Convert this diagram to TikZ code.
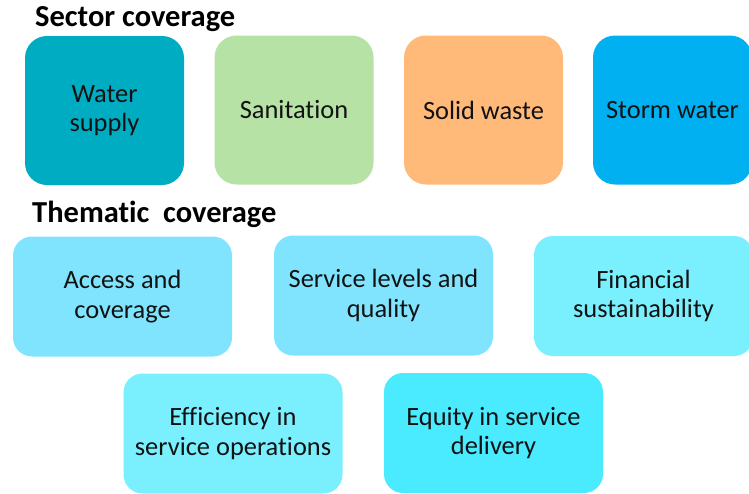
\documentclass[tikz,border=0pt]{standalone}
\usepackage{fontspec}
\setmainfont{Carlito}[Ligatures=NoCommon]
\begin{document}
\begin{tikzpicture}[x=1pt,y=-1pt,
  heading/.style={anchor=base west,font=\fontsize{30.5}{33}\selectfont\bfseries,text=black,inner sep=0pt},
  tile/.style={rectangle,rounded corners=22pt,draw=none,text=black!93,align=center,
    font=\fontsize{26.4}{29.5}\selectfont,inner sep=0pt},
  sector/.style={tile,minimum width=159pt,minimum height=149pt},
  theme/.style={tile,rounded corners=19pt,minimum width=219pt,minimum height=120pt}]
\definecolor{cWater}{RGB}{0,172,193}
\definecolor{cSan}{RGB}{182,226,166}
\definecolor{cSolid}{RGB}{255,186,122}
\definecolor{cStorm}{RGB}{0,176,240}
\definecolor{cAccess}{RGB}{128,228,255}
\definecolor{cFin}{RGB}{122,240,255}
\definecolor{cEquity}{RGB}{74,234,255}
\useasboundingbox[fill=white] (0,0) rectangle (749,493);

% sector row
\node[heading] (h1) at (35,26) {Sector coverage};
\node[sector,fill=cWater] (water) at (104.5,110.5) {Water\\supply};
\node[sector,fill=cSan] (san) at (294,110) {Sanitation};
\node[sector,fill=cSolid] (solid) at (483.5,110) {Solid waste};
\node[sector,fill=cStorm] (storm) at (672.5,110) {Storm water};

% thematic rows
\node[heading] (h2) at (32,222) {Thematic\ \ coverage};
\node[theme,fill=cAccess] (access) at (122.5,296.5) {Access and\\coverage};
\node[theme,fill=cAccess] (levels) at (383.5,295.5) {Service levels and\\quality};
\node[theme,fill=cFin] (fin) at (643.5,296) {Financial\\sustainability};
\node[theme,fill=cFin] (eff) at (233,433.5) {Efficiency in\\service operations};
\node[theme,fill=cEquity] (equity) at (493.5,433) {Equity in service\\delivery};
\end{tikzpicture}
\end{document}
